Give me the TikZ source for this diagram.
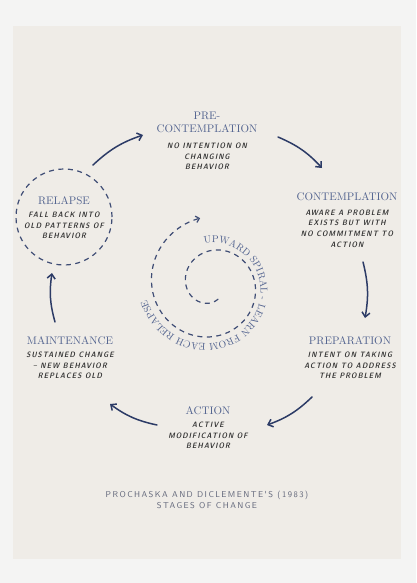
\documentclass[tikz,border=0pt]{standalone}
\usepackage{fontspec}
\usetikzlibrary{positioning}
\usetikzlibrary{arrows.meta}
\usetikzlibrary{decorations.text}
\newfontfamily\stagefont{lmroman10-regular.otf}
\newfontfamily\notefont[LetterSpace=14]{lmsansdemicond10-oblique.otf}
\newfontfamily\captionfont[LetterSpace=17]{lmsans10-regular.otf}
\definecolor{wall}{HTML}{F4F4F3}
\definecolor{paper}{HTML}{EFECE7}
\definecolor{stageblue}{HTML}{52638F}
\definecolor{notegray}{HTML}{2E2E2E}
\definecolor{captiongray}{HTML}{5F6478}
\definecolor{ink}{HTML}{2C3B66}
\definecolor{dashink}{HTML}{3F4D75}
\tikzset{
	stage_name/.style = {
		align=center,
		inner sep=0pt,
		text=stageblue,
		font=\stagefont\fontsize{11}{13}\selectfont
	},
	stage_note/.style = {
		align=center,
		inner sep=0pt,
		text=notegray,
		font=\notefont\fontsize{7.8}{10.7}\selectfont
	},
	caption_text/.style = {
		align=center,
		inner sep=0pt,
		text=captiongray,
		font=\captionfont\fontsize{8.5}{10.5}\selectfont
	},
	cycle_arrow/.style = {
		-{Straight Barb[length=4.5pt,width=8pt]},
		draw=ink,
		line width=1.5pt,
		line cap=round,
		bend left=12
	},
	dash_line/.style = {
		draw=dashink,
		line width=1.2pt,
		dash pattern=on 5pt off 4.5pt
	}
}

\begin{document}
\begin{tikzpicture}[x=1pt, y=-1pt]
\useasboundingbox [fill=wall] (0,0) rectangle (416,583);
\fill [paper] (13,26) rectangle (401,559);

% stages
\node [stage_name] (precont) at (207,122.5) {PRE-\\CONTEMPLATION};
\node [stage_note, below=9.5pt of precont] (precont_note) {NO INTENTION ON\\CHANGING\\BEHAVIOR};
\node [stage_name] (cont) at (347,197) {CONTEMPLATION};
\node [stage_note, below=8pt of cont] (cont_note) {AWARE A PROBLEM\\EXISTS BUT WITH\\NO COMMITMENT TO\\ACTION};
\node [stage_name] (prep) at (350,341) {PREPARATION};
\node [stage_note, below=6.5pt of prep] (prep_note) {INTENT ON TAKING\\ACTION TO ADDRESS\\THE PROBLEM};
\node [stage_name] (action) at (208,411) {ACTION};
\node [stage_note, below=6.5pt of action] (action_note) {ACTIVE\\MODIFICATION OF\\BEHAVIOR};
\node [stage_name] (maint) at (70,341) {MAINTENANCE};
\node [stage_note, below=6.5pt of maint] (maint_note) {SUSTAINED CHANGE\\– NEW BEHAVIOR\\REPLACES OLD};
\node [stage_name] (relapse) at (64,201) {RELAPSE};
\node [stage_note, below=6.5pt of relapse] (relapse_note) {FALL BACK INTO\\OLD PATTERNS OF\\BEHAVIOR};
\node [circle, dash_line, minimum size=96pt] (relapse_ring) at (64,217) {};

% cycle
\coordinate (c1a) at (93,165);
\coordinate (c1b) at (143,135);
\coordinate (c2a) at (278,137);
\coordinate (c2b) at (322,168);
\coordinate (c3a) at (363,262);
\coordinate (c3b) at (365,318);
\coordinate (c4a) at (312,397);
\coordinate (c4b) at (267,425);
\coordinate (c5a) at (157,425);
\coordinate (c5b) at (110,404);
\coordinate (c6a) at (55,322);
\coordinate (c6b) at (52,273);
\draw [cycle_arrow] (c1a) to (c1b);
\draw [cycle_arrow] (c2a) to (c2b);
\draw [cycle_arrow] (c3a) to (c3b);
\draw [cycle_arrow] (c4a) to (c4b);
\draw [cycle_arrow] (c5a) to (c5b);
\draw [cycle_arrow] (c6a) to (c6b);

% spiral
\draw [dash_line, -{Straight Barb[length=3.5pt,width=6.5pt]}]
	plot [domain=66:620, samples=160, smooth, variable=\t]
	({212+(9+0.095*\t)*cos(\t)}, {285+(9+0.095*\t)*sin(\t)});
\path [decorate, decoration={text along path, text color=stageblue,
	text={|\stagefont\fontsize{9.9}{9.9}\selectfont|UPWARD SPIRAL - LEARN FROM EACH RELAPSE}}]
	plot [domain=2.6:5.35, samples=50, variable=\u]
	({212+(44+3*(\u-2.7)+2.2*(\u-2.7)^2)*cos(100*\u)}, {287+(44+3*(\u-2.7)+2.2*(\u-2.7)^2)*sin(100*\u)});

\node [caption_text] (caption) at (207,500) {PROCHASKA AND DICLEMENTE'S (1983)\\STAGES OF CHANGE};
\end{tikzpicture}
\end{document}
